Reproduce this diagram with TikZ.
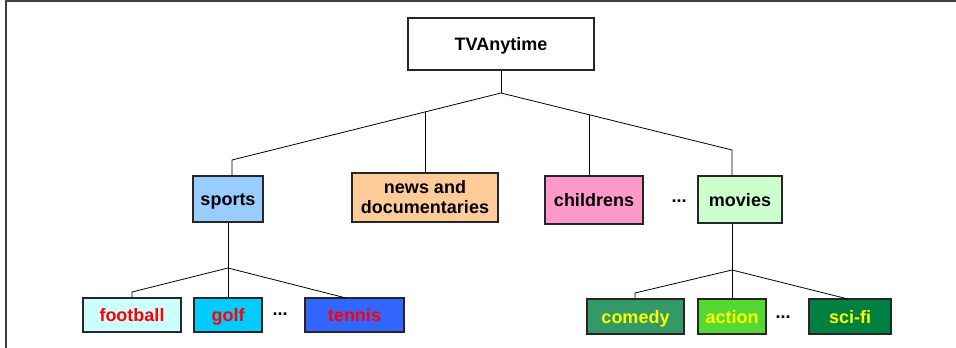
\documentclass[tikz,border=0pt]{standalone}
\usepackage{fontspec}
\setmainfont{Liberation Sans}
\definecolor{cSports}{HTML}{99CCFF}
\definecolor{cNews}{HTML}{FFCC99}
\definecolor{cChild}{HTML}{FF99CC}
\definecolor{cMovies}{HTML}{CCFFCC}
\definecolor{cFoot}{HTML}{CCFFFF}
\definecolor{cGolf}{HTML}{00CCFF}
\definecolor{cTennis}{HTML}{3366FF}
\definecolor{cComedy}{HTML}{339966}
\definecolor{cAction}{HTML}{55D832}
\definecolor{cScifi}{HTML}{008040}
\definecolor{txtRed}{HTML}{FF0000}
\definecolor{txtYel}{HTML}{FFFF00}
\definecolor{frameGray}{HTML}{404040}
\begin{document}
\begin{tikzpicture}[x=1pt,y=-1pt,
  box/.style={draw=black!85, line width=1.1pt, inner sep=0pt, align=center,
    text height=13pt, text depth=0pt,
    font=\fontsize{18}{20}\selectfont\bfseries},
  conn/.style={draw=black, line width=0.8pt},
  dots/.style={inner sep=0pt, font=\fontsize{18}{20}\selectfont\bfseries}]
\useasboundingbox (0,0) rectangle (956,348);
% frame
\draw[frameGray, line width=1.5pt] (6,348) -- (6,1) -- (956,1);
% nodes
\node[box, fill=white, minimum width=186pt, minimum height=52pt] (root) at (501,44) {TVAnytime};
\node[box, fill=cSports, minimum width=70pt, minimum height=46pt] (sports) at (228,199) {sports};
\node[box, fill=cNews, minimum width=146pt, minimum height=49pt, text height=, text depth=] (news) at (425,197.5) {news and\\documentaries};
\node[box, fill=cChild, minimum width=98pt, minimum height=48pt] (child) at (594,200) {childrens};
\node[box, fill=cMovies, minimum width=84pt, minimum height=47pt] (movies) at (740,199.5) {movies};
\node[dots] (d1) at (679,201) {...};
\node[box, fill=cFoot, text=txtRed, minimum width=98pt, minimum height=34pt] (football) at (132,315) {football};
\node[box, fill=cGolf, text=txtRed, minimum width=68pt, minimum height=34pt] (golf) at (228,315) {golf};
\node[box, fill=cTennis, text=txtRed, minimum width=99pt, minimum height=34pt] (tennis) at (354.5,315) {tennis};
\node[dots] (d2) at (280,314) {...};
\node[box, fill=cComedy, text=txtYel, minimum width=97pt, minimum height=35pt] (comedy) at (635.5,316.5) {comedy};
\node[box, fill=cAction, text=txtYel, minimum width=68pt, minimum height=35pt] (action) at (732,316.5) {action};
\node[box, fill=cScifi, text=txtYel, minimum width=82pt, minimum height=35pt] (scifi) at (850,316.5) {sci-fi};
\node[dots] (d3) at (783,317) {...};
% connector points
\coordinate (j0) at (501,93);
\coordinate (cl) at (232,160);
\coordinate (cr) at (732,150);
\coordinate (cn) at (425,111.9);
\coordinate (cc) at (589,114.7);
\coordinate (j1) at (228,268);
\coordinate (cf) at (132,292);
\coordinate (j2) at (732,270);
\coordinate (cm) at (635,293);
% connectors
\draw[conn] (root.south) -- (j0);
\draw[conn] (j0) -- (cl) -- (cl |- sports.north);
\draw[conn] (j0) -- (cr) -- (cr |- movies.north);
\draw[conn] (cn) -- (news.north);
\draw[conn] (cc) -- (cc |- child.north);
\draw[conn] (sports.south) -- (j1);
\draw[conn] (j1) -- (cf) -- (cf |- football.north);
\draw[conn] (j1) -- (golf.north);
\draw[conn] (j1) -- (346,298);
\draw[conn] (j2 |- movies.south) -- (j2);
\draw[conn] (j2) -- (cm) -- (cm |- comedy.north);
\draw[conn] (j2) -- (action.north);
\draw[conn] (j2) -- (848,299);
\end{tikzpicture}
\end{document}
